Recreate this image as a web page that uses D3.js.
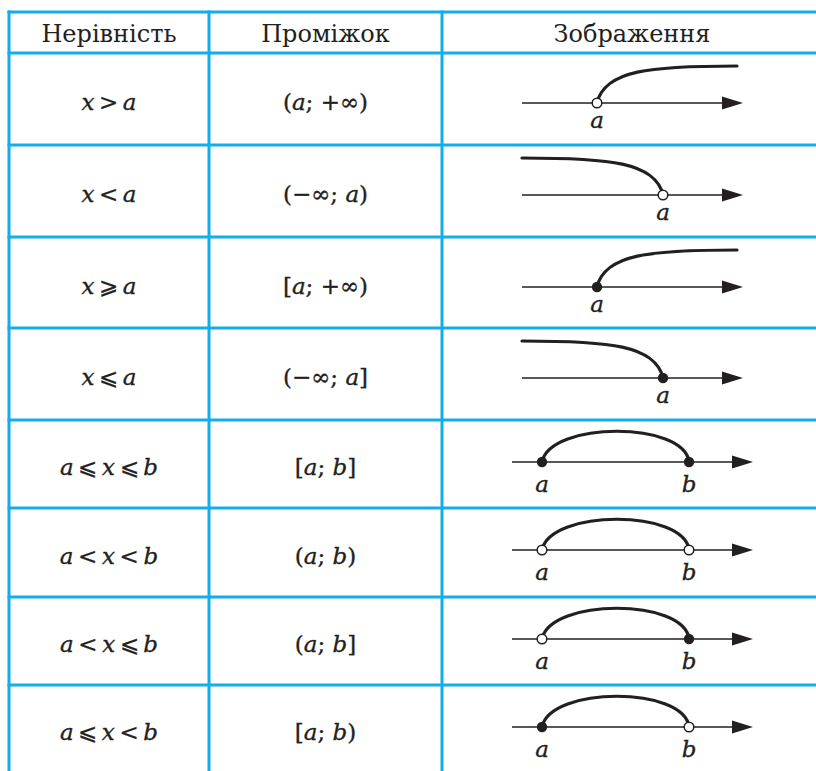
<!DOCTYPE html>
<html>
<head>
<meta charset="utf-8">
<script src="https://cdn.jsdelivr.net/npm/d3@7/dist/d3.min.js"></script>
<style>
body { margin: 0; background: #fff; }
svg { display: block; }
</style>
</head>
<body>
<div id="chartCont"></div>
<script>
// column titles
var headers = ['Нерівність', 'Проміжок', 'Зображення'];

// first two columns (latin letters get italic)
var inequalities = ['x\u2009>\u2009a', 'x\u2009<\u2009a', 'x\u2009\u2A7E\u2009a', 'x\u2009\u2A7D\u2009a',
    'a\u2009\u2A7D\u2009x\u2009\u2A7D\u2009b', 'a\u2009<\u2009x\u2009<\u2009b', 'a\u2009<\u2009x\u2009\u2A7D\u2009b', 'a\u2009\u2A7D\u2009x\u2009<\u2009b'];
var intervals = ['(a; +∞)', '(−∞; a)', '[a; +∞)', '(−∞; a]', '[a; b]', '(a; b)', '(a; b]', '[a; b)'];

// number line pictures, values in number line units
var kinds = ['right', 'left', 'right', 'left', 'segment', 'segment', 'segment', 'segment'];
var axisFrom = [1, 1, 1, 1, 0, 0, 0, 0];
var axisTo = [23.1, 23.1, 23.1, 23.1, 24.1, 24.1, 24.1, 24.1];
var pointA = [8.5, 15.1, 8.5, 15.1, 3, 3, 3, 3];
var pointB = [null, null, null, null, 17.7, 17.7, 17.7, 17.7];
var rayEnd = [22.5, 1, 22.5, 1, null, null, null, null];
var aClosed = [false, false, true, true, true, false, false, true];
var bClosed = [null, null, null, null, true, false, true, false];

var blue = '#12aeea';
var ink = '#231f20';
var mathFont = '"DejaVu Serif", serif';
var headFont = '"DejaVu Serif", serif';

var tbl = {left: 9, top: 12, headerH: 41, cols: [9, 209, 442, 822]};
var rowH = [92, 92, 91, 92, 88, 89, 88, 88];

var svg = d3.select('#chartCont').append('svg')
    .attr('width', 816)
    .attr('height', 771);

svg.append('rect').attr('width', 816).attr('height', 771).attr('fill', '#fff');

var rowTops = [];
var y = tbl.top + tbl.headerH;
rowH.forEach(function (h) { rowTops.push(y); y += h; });
var tableBottom = y;

var nl = d3.scaleLinear().domain([0, 24]).range([512, 752]);

function mathText(g, str, x, yb, size) {
    var t = g.append('text')
        .attr('x', x).attr('y', yb)
        .attr('text-anchor', 'middle')
        .attr('font-family', mathFont)
        .attr('font-size', size)
        .attr('fill', ink)
        .attr('stroke', ink)
        .attr('stroke-width', 0.35);
    // split into runs of latin letters / other chars
    var parts = str.match(/[a-z]+|[^a-z]+/g);
    parts.forEach(function (p) {
        t.append('tspan')
            .attr('font-style', /[a-z]/.test(p) ? 'italic' : 'normal')
            .text(p);
    });
    return t;
}

function drawGrid() {
    var g = svg.append('g').attr('id', 'grid')
        .attr('stroke', blue).attr('stroke-width', 3);
    var hs = [tbl.top, tbl.top + tbl.headerH].concat(rowTops.slice(1));
    g.selectAll('line.h').data(hs).enter().append('line')
        .attr('class', 'h')
        .attr('x1', tbl.cols[0] - 1.5).attr('x2', tbl.cols[3])
        .attr('y1', function (d) { return d; })
        .attr('y2', function (d) { return d; });
    g.selectAll('line.v').data(tbl.cols).enter().append('line')
        .attr('class', 'v')
        .attr('x1', function (d) { return d; })
        .attr('x2', function (d) { return d; })
        .attr('y1', tbl.top - 1.5).attr('y2', tableBottom);
}

function drawHeader() {
    var g = svg.append('g').attr('id', 'header');
    headers.forEach(function (h, i) {
        g.append('text')
            .attr('x', (tbl.cols[i] + tbl.cols[i + 1]) / 2)
            .attr('y', tbl.top + 30)
            .attr('text-anchor', 'middle')
            .attr('font-family', headFont)
            .attr('font-size', 24)
            .attr('fill', ink)
            .text(h);
    });
}

function drawPicture(g, i, top) {
    var ray = kinds[i] !== 'segment';
    var y0 = top + (ray ? 50 : 42);
    var yTop = top + (ray ? 13 : 11);
    var labelY = top + (ray ? 75 : 72);
    var tip = nl(axisTo[i]);

    g.append('line')
        .attr('x1', nl(axisFrom[i])).attr('x2', tip - 15)
        .attr('y1', y0).attr('y2', y0)
        .attr('stroke', ink).attr('stroke-width', 1.7);
    g.append('path')
        .attr('d', 'M' + tip + ',' + y0 + 'L' + (tip - 21) + ',' + (y0 - 6.5) + 'L' + (tip - 21) + ',' + (y0 + 6.5) + 'Z')
        .attr('fill', ink);

    var ax = nl(pointA[i]);
    var p = d3.path();
    if (ray) {
        var e = nl(rayEnd[i]);
        p.moveTo(ax, y0);
        p.bezierCurveTo(ax + 0.057 * (e - ax), yTop + 4, ax + 0.38 * (e - ax), yTop, e, yTop);
    } else {
        var bx = nl(pointB[i]);
        p.moveTo(ax, y0);
        p.bezierCurveTo(ax + 0.055 * (bx - ax), y0 - 41, bx - 0.03 * (bx - ax), y0 - 41, bx, y0);
    }
    g.append('path')
        .attr('d', p.toString())
        .attr('fill', 'none')
        .attr('stroke', ink)
        .attr('stroke-width', 3.2)
        .attr('stroke-linecap', 'round');

    var pts = [{x: ax, closed: aClosed[i], name: 'a'}];
    if (!ray) pts.push({x: nl(pointB[i]), closed: bClosed[i], name: 'b'});

    g.selectAll('circle').data(pts).enter().append('circle')
        .attr('cx', function (d) { return d.x; })
        .attr('cy', y0)
        .attr('r', function (d) { return d.closed ? 5.2 : 4.8; })
        .attr('fill', function (d) { return d.closed ? ink : '#fff'; })
        .attr('stroke', ink)
        .attr('stroke-width', function (d) { return d.closed ? 0 : 1.5; });

    pts.forEach(function (d) {
        mathText(g, d.name, d.x, labelY, 23);
    });
}

function drawRows() {
    var g = svg.append('g').attr('id', 'rows');
    rowTops.forEach(function (top, i) {
        var mid = top + rowH[i] / 2;
        mathText(g, inequalities[i], (tbl.cols[0] + tbl.cols[1]) / 2, mid + 11, 23);
        mathText(g, intervals[i], (tbl.cols[1] + tbl.cols[2]) / 2, mid + 11, 23);
        drawPicture(g.append('g'), i, top);
    });
}

drawGrid();
drawHeader();
drawRows();
</script>
</body>
</html>
